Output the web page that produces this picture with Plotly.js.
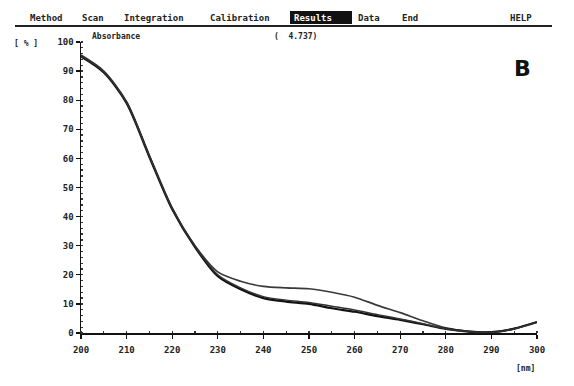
<!DOCTYPE html>
<html>
<head>
<meta charset="utf-8">
<script src="https://cdn.plot.ly/plotly-3.0.1.min.js"></script>
<style>html,body{margin:0;padding:0;background:#fff;}#chart{width:574px;height:386px;}</style>
</head>
<body>
<div id="chart"></div>
<script>
// wavelengths (nm)
const wavelength = [200,205,210,215,220,225,230,235,240,245,250,255,260,265,270,275,280,285,290,295,300];
// absorbance (%) — upper spectrum
const specUpper  = [95.5,90,79.5,61,43,30,21,17.8,16,15.5,15.2,14,12.3,9.5,7,4.2,1.8,0.6,0.3,1.5,3.8];
// lower spectra (overlapping)
const specLower1 = [95,89.5,79,60.5,42.5,29.5,19.5,15,12,10.8,10,8.5,7.3,5.8,4.5,3,1.4,0.5,0.3,1.5,3.8];
const specLower2 = [95.2,89.8,79.2,60.8,42.8,29.8,20,15.5,12.5,11.3,10.5,9.2,7.9,6.3,4.8,3.2,1.5,0.5,0.2,1.4,3.6];
const xTicks = [200,210,220,230,240,250,260,270,280,290,300];
const yTicks = [0,10,20,30,40,50,60,70,80,90,100];
const menuItems = ["Method","Scan","Integration","Calibration","Results","Data","End","HELP"];

const M = {l:81, r:37, t:42, b:53};
const W = 574, H = 386;
const pw = W - M.l - M.r, ph = H - M.t - M.b;
const px = x => (x - M.l) / pw;
const py = y => (H - M.b - y) / ph;

const FONT = "DejaVu Sans Mono, Liberation Mono, monospace";
const mk = (y, c, w) => ({x: wavelength, y: y, type: 'scatter', mode: 'lines',
  line: {color: c, width: w, shape: 'spline', smoothing: 0.8}, hoverinfo: 'skip', cliponaxis: false});

const data = [mk(specUpper, '#3a3a3a', 1.7), mk(specLower1, '#111', 2.2), mk(specLower2, '#333', 1.5)];

const menuX = [28, 80, 122, 208, 292, 356, 400, 508];
const ann = [];
// menu underline: a thin filled annotation box (no visible text)
ann.push({xref:'paper', yref:'paper', x: px(15), y: py(25), xanchor:'left', yanchor:'top',
  text:'.', showarrow:false, width:537, height:2, bgcolor:'#222', borderpad:0, borderwidth:0,
  font:{size:2, color:'#222'}});
menuItems.forEach((t, i) => {
  ann.push({xref:'paper', yref:'paper', x: px(menuX[i]), y: py(18), xanchor:'left', yanchor:'middle',
    text: '<b>' + t + '</b>', showarrow:false,
    font:{family:FONT, size:9, color: i === 4 ? '#fff' : '#222'}});
});
ann.push({xref:'paper', yref:'paper', x: px(90), y: py(36), xanchor:'left', yanchor:'middle',
  text:'<b>Absorbance</b>', showarrow:false, font:{family:FONT, size:8, color:'#222'}});
ann.push({xref:'paper', yref:'paper', x: px(272), y: py(36), xanchor:'left', yanchor:'middle',
  text:'<b>(  4.737)</b>', showarrow:false, font:{family:FONT, size:8, color:'#222'}});
ann.push({xref:'paper', yref:'paper', x: px(12), y: py(43), xanchor:'left', yanchor:'middle',
  text:'<b>[ % ]</b>', showarrow:false, font:{family:FONT, size:8, color:'#222'}});
ann.push({xref:'paper', yref:'paper', x: px(522), y: py(68), xanchor:'center', yanchor:'middle',
  text:'<b>B</b>', showarrow:false, font:{family:'DejaVu Sans, Arial', size:22, color:'#111'}});
ann.push({xref:'paper', yref:'paper', x: px(525), y: py(368), xanchor:'center', yanchor:'middle',
  text:'<b>[nm]</b>', showarrow:false, font:{family:FONT, size:8, color:'#222'}});

const shapes = [
  {type:'rect', xref:'paper', yref:'paper', x0: px(290), x1: px(352), y0: py(11), y1: py(24),
   fillcolor:'#111', line:{width:0}, layer:'below'}
];

const axisCommon = {showgrid:false, zeroline:false, showline:true, linecolor:'#111', linewidth:1.5,
  ticks:'outside', ticklen:4, tickwidth:1.3, tickcolor:'#111',
  tickfont:{family:FONT, size:9, color:'#222', weight:'bold'}};

const layout = {
  width: W, height: H, margin: M,
  paper_bgcolor:'#fff', plot_bgcolor:'#fff', showlegend:false,
  xaxis: Object.assign({}, axisCommon, {range:[200,300], tickvals:xTicks, ticktext:xTicks.map(String),
    ticklabelstandoff: 4,
    minor:{dtick:5, ticks:'inside', ticklen:2, tickcolor:'#333'}}),
  yaxis: Object.assign({}, axisCommon, {range:[0,100], tickvals:yTicks, ticktext:yTicks.map(String),
    minor:{dtick:2, ticks:'inside', ticklen:2, tickcolor:'#333'}}),
  annotations: ann, shapes: shapes
};
Plotly.newPlot('chart', data, layout, {staticPlot:true, displayModeBar:false});
</script>
</body>
</html>
